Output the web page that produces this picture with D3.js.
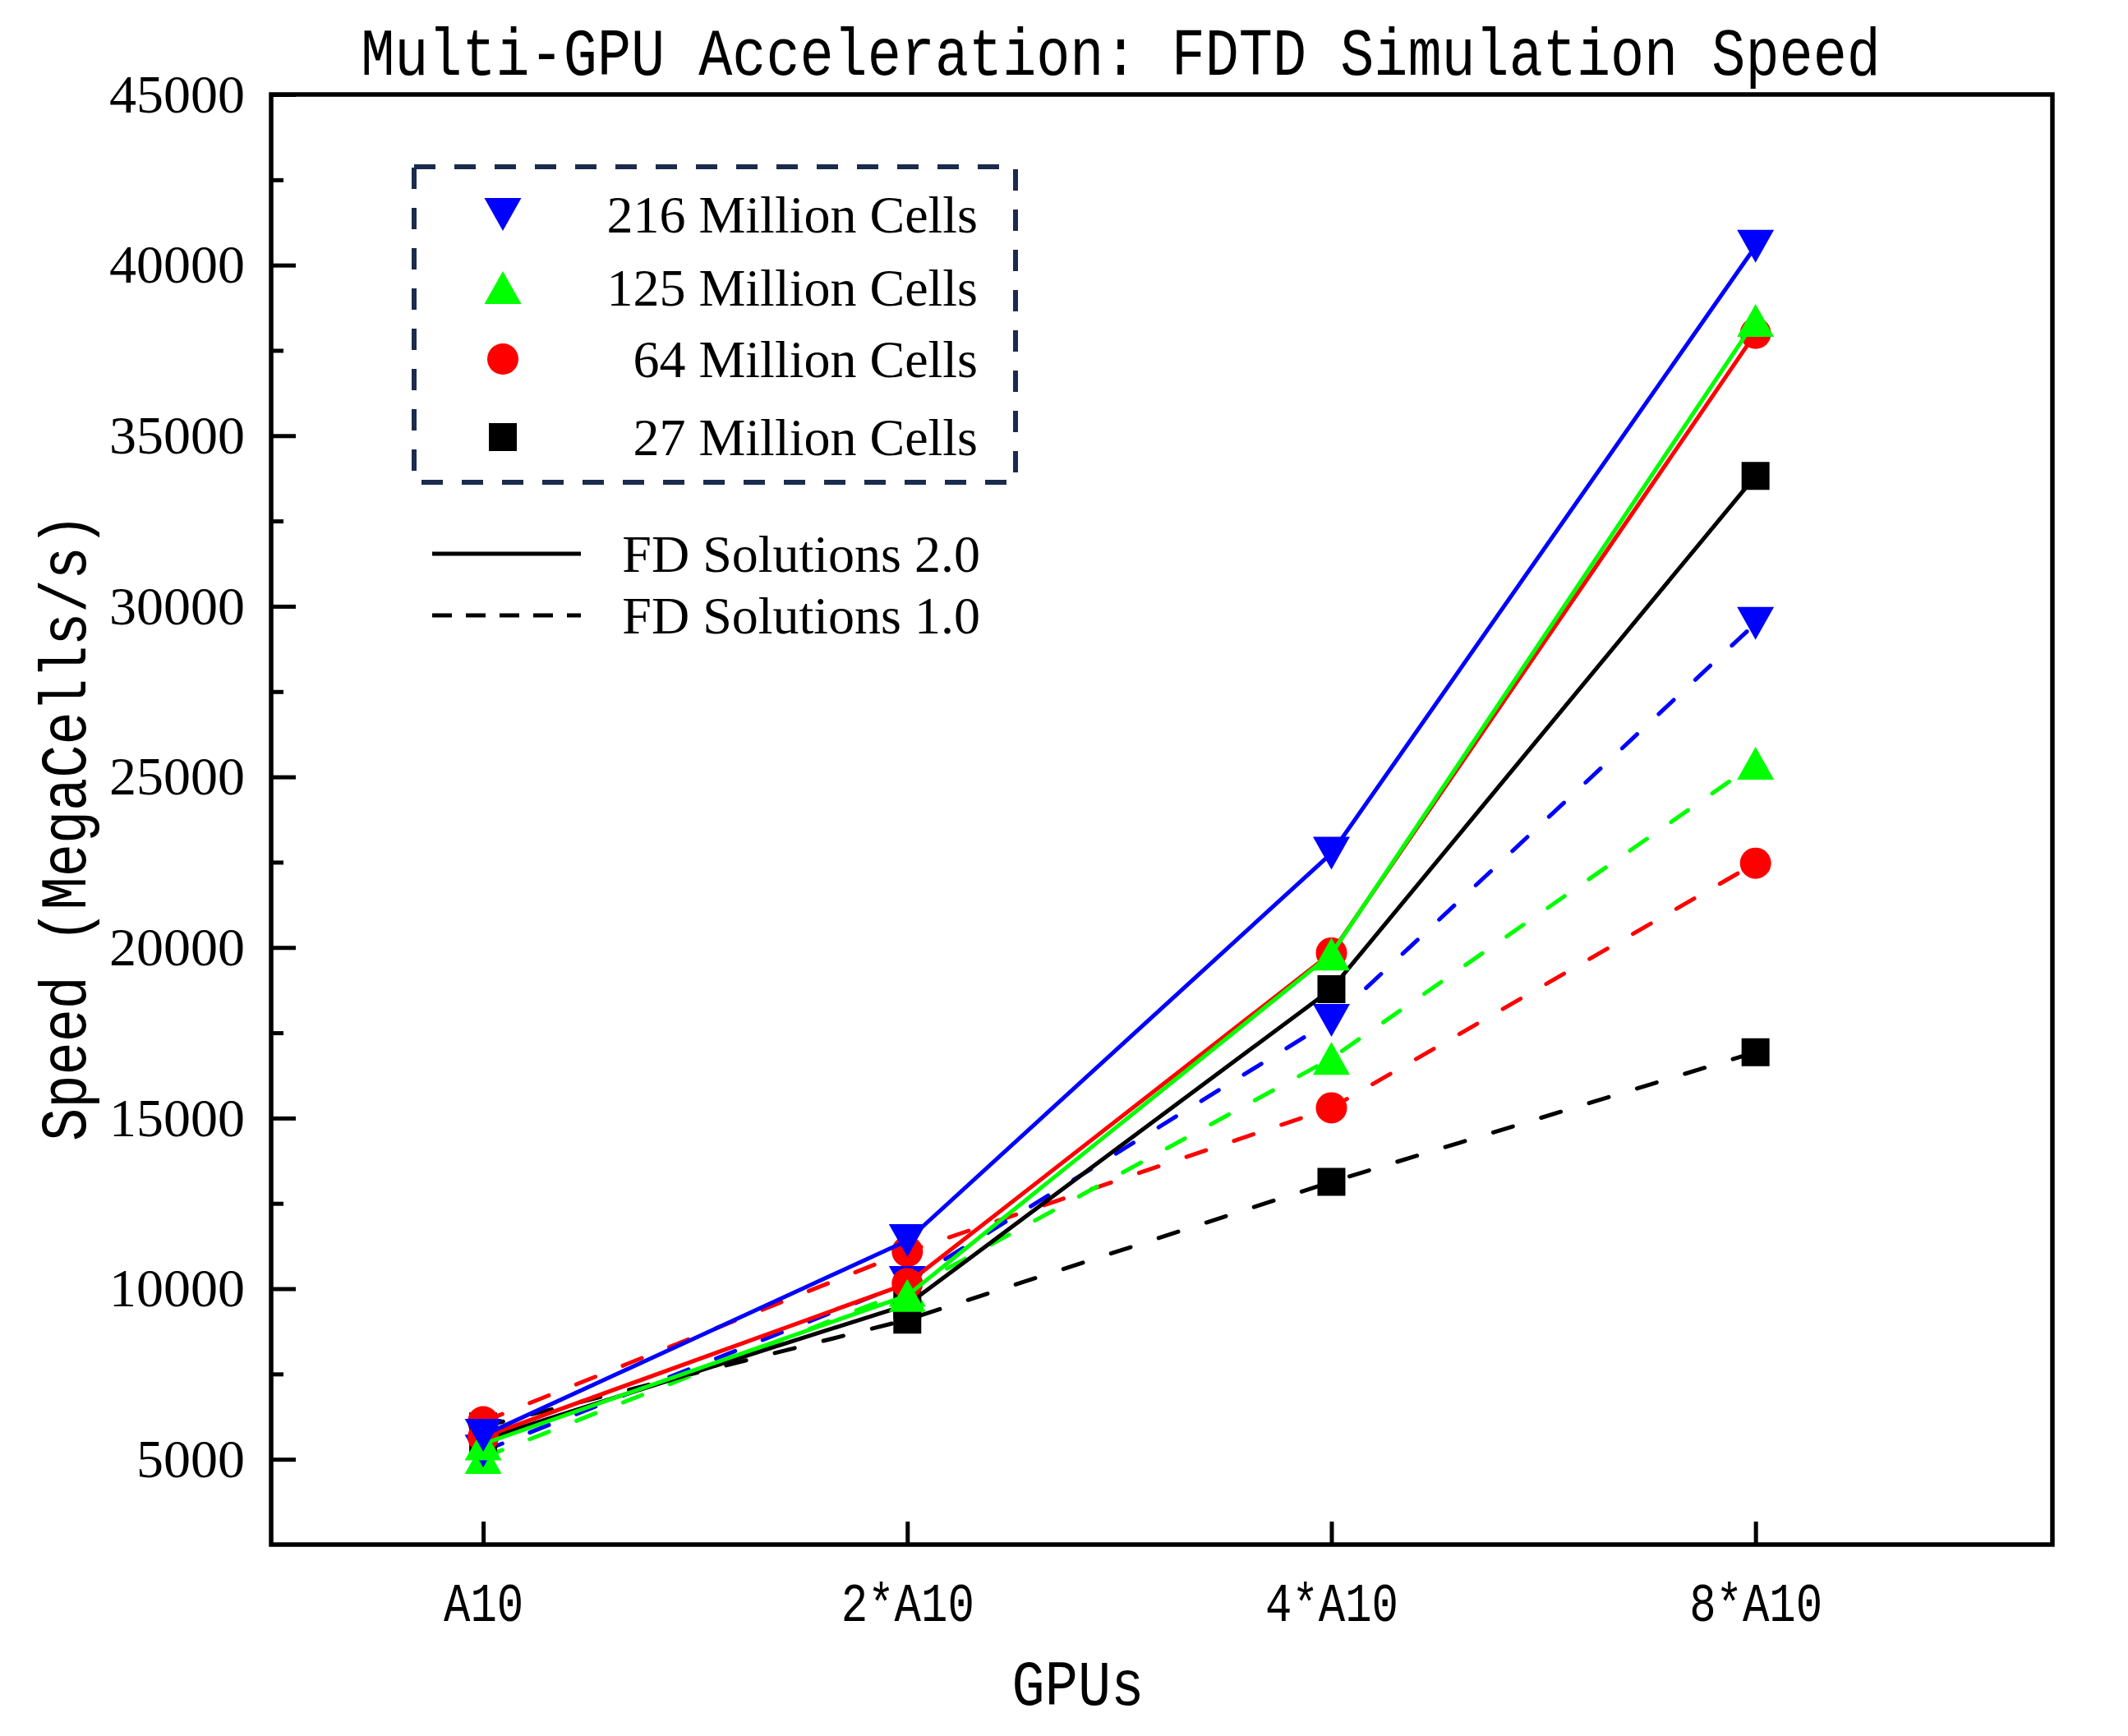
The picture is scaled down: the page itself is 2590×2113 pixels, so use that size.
<!DOCTYPE html>
<html>
<head>
<meta charset="utf-8">
<script src="https://cdn.jsdelivr.net/npm/d3@7"></script>
<style>
  body { margin: 0; background: #fff; }
  svg { display: block; }
</style>
</head>
<body>
<div id="chart"></div>
<script>
// GPU configurations on the x axis
const gpuLabels = ["A10", "2*A10", "4*A10", "8*A10"];

// legend names for the grid sizes
const cellNames = ["216 Million Cells", "125 Million Cells", "64 Million Cells", "27 Million Cells"];
const versionNames = ["FD Solutions 2.0", "FD Solutions 1.0"];

// speed in MegaCells/s, FD Solutions 2.0 (solid) and 1.0 (dashed)
const v2_216 = [5700, 11410, 22760, 40550];
const v1_216 = [5240, 10180, 17860, 29500];
const v2_125 = [5450, 9800, 19810, 38380];
const v1_125 = [5050, 9950, 16750, 25400];
const v2_64 = [5650, 10150, 19840, 38000];
const v1_64 = [6100, 11090, 15300, 22470];
const v2_27 = [5580, 9530, 18780, 33820];
const v1_27 = [5960, 9090, 13130, 16930];

// y axis ticks
const yMajorTicks = [5000, 10000, 15000, 20000, 25000, 30000, 35000, 40000, 45000];
const yMinorTicks = [7500, 12500, 17500, 22500, 27500, 32500, 37500, 42500];

const W = 2590, H = 2113;
const plotLeft = 330, plotRight = 2498, plotTop = 115, plotBottom = 1880;

const serif = "'Liberation Serif', 'Times New Roman', serif";
const mono = "'Liberation Mono', 'Courier New', monospace";

const svg = d3.select("#chart").append("svg")
  .attr("width", W)
  .attr("height", H);

svg.append("rect").attr("width", W).attr("height", H).attr("fill", "#fff");

const x = d3.scaleLinear().domain([-0.5, 3.7]).range([plotLeft, plotRight]);
const y = d3.scaleLinear().domain([2500, 45000]).range([plotBottom, plotTop]);

// marker shapes, centred on the point
const symbolPath = {
  down: "M-22.5,-20L22.5,-20L0,20Z",
  up: "M0,-20L22.5,20L-22.5,20Z",
  circle: "M19,0A19,19 0 1,1 -19,0A19,19 0 1,1 19,0Z",
  square: "M-17,-17L17,-17L17,17L-17,17Z"
};

const groups = [
  { name: cellNames[0], color: "#0000ff", symbol: "down", v2: v2_216, v1: v1_216 },
  { name: cellNames[1], color: "#00ff00", symbol: "up", v2: v2_125, v1: v1_125 },
  { name: cellNames[2], color: "#ff0000", symbol: "circle", v2: v2_64, v1: v1_64 },
  { name: cellNames[3], color: "#000000", symbol: "square", v2: v2_27, v1: v1_27 }
];

// dashed (1.0) series first, then solid (2.0), smallest grid first
const plotOrder = [];
[false, true].forEach(solid => {
  groups.slice().reverse().forEach(g => {
    plotOrder.push({ color: g.color, symbol: g.symbol, solid: solid, values: solid ? g.v2 : g.v1 });
  });
});

const line = d3.line()
  .x((d, i) => x(i))
  .y(d => y(d));

const plot = svg.append("g");

plotOrder.forEach(s => {
  plot.append("path")
    .datum(s.values)
    .attr("fill", "none")
    .attr("stroke", s.color)
    .attr("stroke-width", 5)
    .attr("stroke-linecap", s.solid ? "butt" : "round")
    .attr("stroke-linejoin", "round")
    .attr("stroke-dasharray", s.solid ? null : "25 36")
    .attr("d", line);

  plot.selectAll(null)
    .data(s.values)
    .enter().append("path")
    .attr("transform", (d, i) => `translate(${x(i)},${y(d)})`)
    .attr("d", symbolPath[s.symbol])
    .attr("fill", s.color);
});

// y axis, ticks pointing inward
const yAxis = svg.append("g")
  .attr("transform", `translate(${plotLeft},0)`)
  .call(d3.axisLeft(y).tickValues(yMajorTicks).tickSizeInner(-30).tickSizeOuter(0).tickPadding(32).tickFormat(d3.format("d")));
yAxis.select(".domain").remove();
yAxis.selectAll("line").attr("stroke", "#000").attr("stroke-width", 5);
yAxis.selectAll("text")
  .attr("font-family", serif)
  .attr("font-size", 66)
  .attr("fill", "#000");

const yMinor = svg.append("g")
  .attr("transform", `translate(${plotLeft},0)`)
  .call(d3.axisLeft(y).tickValues(yMinorTicks).tickSizeInner(-15).tickSizeOuter(0).tickFormat(""));
yMinor.select(".domain").remove();
yMinor.selectAll("line").attr("stroke", "#000").attr("stroke-width", 5);

// x axis
const xAxis = svg.append("g")
  .attr("transform", `translate(0,${plotBottom})`)
  .call(d3.axisBottom(x).tickValues([0, 1, 2, 3]).tickSizeInner(-28).tickSizeOuter(0).tickFormat(i => gpuLabels[i]));
xAxis.select(".domain").remove();
xAxis.selectAll("line").attr("stroke", "#000").attr("stroke-width", 5);
xAxis.selectAll("text")
  .attr("y", 70)
  .attr("dy", "0.35em")
  .attr("font-family", mono)
  .attr("font-size", 54)
  .attr("fill", "#000")
  .style("transform-box", "fill-box")
  .style("transform-origin", "center")
  .style("transform", "scaleY(1.25)");

// frame
svg.append("rect")
  .attr("x", plotLeft)
  .attr("y", plotTop)
  .attr("width", plotRight - plotLeft)
  .attr("height", plotBottom - plotTop)
  .attr("fill", "none")
  .attr("stroke", "#000")
  .attr("stroke-width", 5.5);

// title and axis titles
svg.append("text")
  .attr("transform", "translate(1364,62) scale(1,1.2)")
  .attr("text-anchor", "middle")
  .attr("dy", "0.35em")
  .attr("font-family", mono)
  .attr("font-size", 68.5)
  .text("Multi-GPU Acceleration: FDTD Simulation Speed");

svg.append("text")
  .attr("transform", "translate(76,1007) rotate(-90) scale(1,1.2)")
  .attr("text-anchor", "middle")
  .attr("dy", "0.35em")
  .attr("font-family", mono)
  .attr("font-size", 67)
  .text("Speed (MegaCells/s)");

svg.append("text")
  .attr("transform", "translate(1312,2048) scale(1,1.15)")
  .attr("text-anchor", "middle")
  .attr("dy", "0.35em")
  .attr("font-family", mono)
  .attr("font-size", 67)
  .text("GPUs");

// legend
const legend = svg.append("g");
legend.append("rect")
  .attr("x", 504)
  .attr("y", 203)
  .attr("width", 732)
  .attr("height", 384)
  .attr("fill", "none")
  .attr("stroke", "#1b2b4e")
  .attr("stroke-width", 6)
  .attr("stroke-dasharray", "26 23");

const rowY = [261, 350, 437, 532];
groups.forEach((g, i) => {
  legend.append("path")
    .attr("transform", `translate(612,${rowY[i]})`)
    .attr("d", symbolPath[g.symbol])
    .attr("fill", g.color);
  legend.append("text")
    .attr("x", 1190)
    .attr("y", rowY[i])
    .attr("dy", "0.35em")
    .attr("text-anchor", "end")
    .attr("font-family", serif)
    .attr("font-size", 64)
    .text(g.name);
});

const lineRowY = [674, 749];
versionNames.forEach((name, i) => {
  legend.append("line")
    .attr("x1", 526)
    .attr("x2", 707)
    .attr("y1", lineRowY[i])
    .attr("y2", lineRowY[i])
    .attr("stroke", "#000")
    .attr("stroke-width", 5)
    .attr("stroke-dasharray", i === 0 ? null : "24 17");
  legend.append("text")
    .attr("x", 1193)
    .attr("y", lineRowY[i])
    .attr("dy", "0.35em")
    .attr("text-anchor", "end")
    .attr("font-family", serif)
    .attr("font-size", 64)
    .text(name);
});
</script>
</body>
</html>
